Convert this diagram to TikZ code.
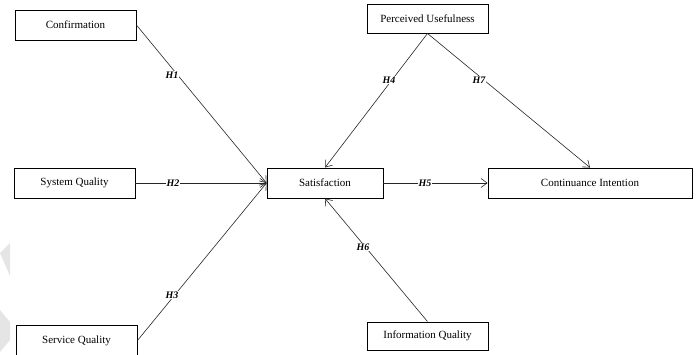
\documentclass[tikz,border=0pt]{standalone}
\usepackage{fontspec}
\setmainfont{Liberation Serif}
\usetikzlibrary{arrows.meta}
\begin{document}
\begin{tikzpicture}[x=1pt,y=-1pt,
  box/.style={draw=black,line width=0.9pt,fill=white,inner sep=0pt,font=\fontsize{11}{13}\selectfont},
  conn/.style={draw=black!85,line width=0.6pt,-{Straight Barb[length=6pt,width=9pt]}},
  hlab/.style={fill=white,inner sep=1pt,font=\fontsize{10}{12}\selectfont\bfseries\itshape}]
\useasboundingbox (0,0) rectangle (696,354);
% faint watermark shapes at left edge
\fill[black!10] (0,253) -- (10,243) -- (10,276) -- cycle;
\fill[black!10] (0,310) -- (10,322) -- (10,340) -- (0,352) -- cycle;
% boxes
\node[box,minimum width=121pt,minimum height=30pt] (conf) at (75.5,25) {Confirmation};
\node[box,minimum width=121pt,minimum height=30pt] (sysq) at (74.5,183) {System Quality};
\node[box,minimum width=121pt,minimum height=31pt] (servq) at (76.5,340.5) {Service Quality};
\node[box,minimum width=116pt,minimum height=30pt] (sat) at (325,183) {Satisfaction};
\node[box,minimum width=121pt,minimum height=29pt] (pu) at (427.5,18.5) {Perceived Usefulness};
\node[box,minimum width=204pt,minimum height=30pt] (ci) at (590,183) {Continuance Intention};
\node[box,minimum width=121pt,minimum height=28pt] (iq) at (427.5,336) {Information Quality};
% connectors
\draw[conn] (conf.east) -- (sat.west);
\draw[conn] (sysq.east) -- (sat.west);
\draw[conn] (servq.east) -- (sat.west);
\draw[conn] (pu.south) -- (sat.north);
\draw[conn] (pu.south) -- (ci.north);
\draw[conn] (sat.east) -- (ci.west);
\draw[conn] (iq.north) -- (sat.south);
% labels
\node[hlab] (h1) at (172,75) {H1};
\node[hlab] (h2) at (173,183) {H2};
\node[hlab] (h3) at (172,295) {H3};
\node[hlab] (h4) at (389,80) {H4};
\node[hlab] (h7) at (479,80) {H7};
\node[hlab] (h5) at (425,183) {H5};
\node[hlab] (h6) at (363,247) {H6};
\end{tikzpicture}
\end{document}
